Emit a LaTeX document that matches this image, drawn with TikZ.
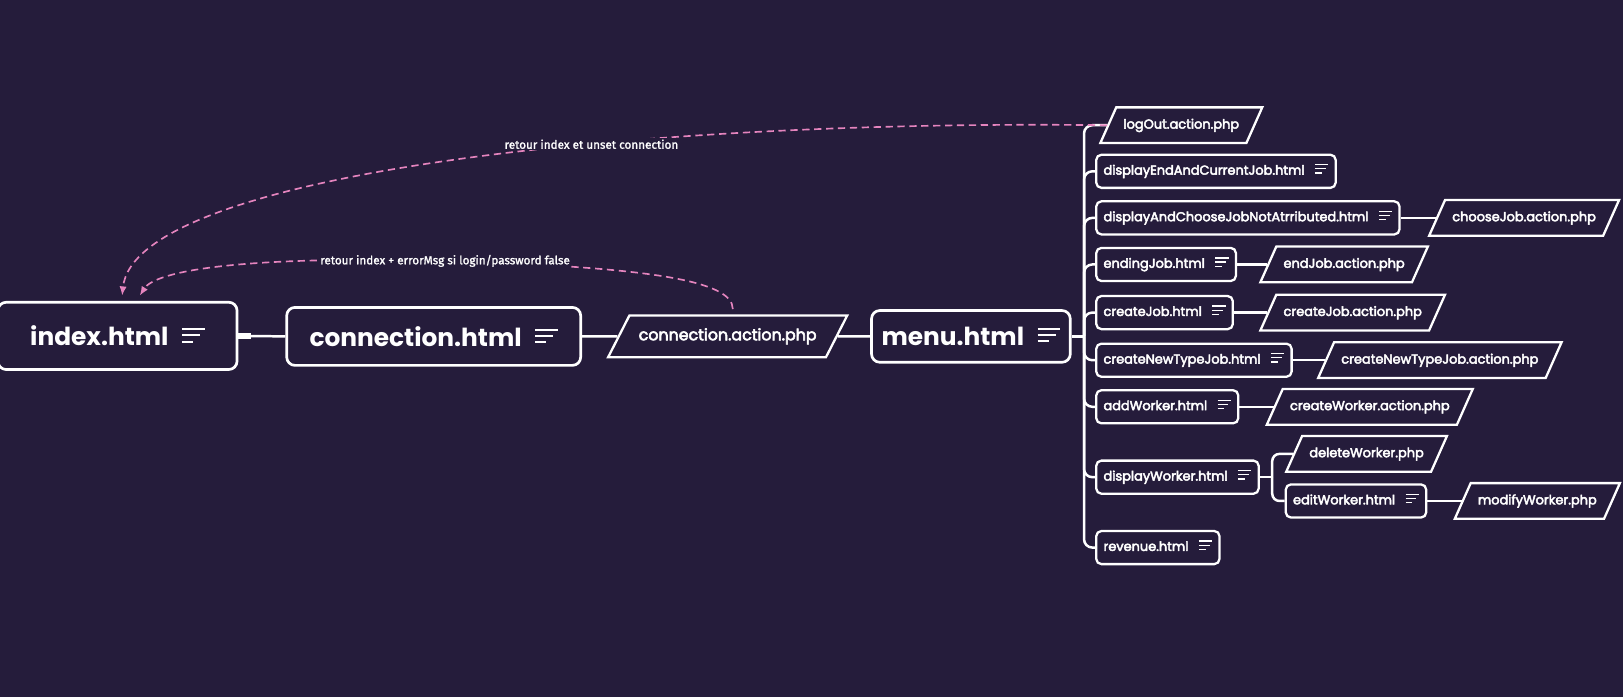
\documentclass[tikz,border=0pt]{standalone}
\usepackage{fontspec}
\setmainfont{Poppins}
\newfontfamily\itemfont{Poppins}[FakeBold=3.5]
\newfontfamily\notefont{Fira Sans}[FakeBold=1.5]
\usepackage{xcolor}
\usetikzlibrary{positioning}
\usetikzlibrary{shapes.geometric}
\usetikzlibrary{arrows.meta}
\usetikzlibrary{math}

\definecolor{canvas}{HTML}{251C3B}
\definecolor{linkpink}{HTML}{E584BE}

% three lines of notes: width, thickness, gap, raise
\newcommand{\notelines}[4]{\raisebox{#4}{\vbox{\hrule width #1 height #2
  \vskip #3\hrule width \dimexpr #1*4/5\relax height #2
  \vskip #3\hrule width \dimexpr #1/2\relax height #2}}}
\newcommand{\bignotes}{\hspace{13pt}\notelines{22pt}{2pt}{4pt}{3pt}}
\newcommand{\smallnotes}{\hspace{10pt}\notelines{13pt}{1.2pt}{2.8pt}{1pt}}

\tikzset{
  rootbox/.style={draw=white, line width=2.6pt, rounded corners=8pt, fill=canvas,
    text=white, font=\bfseries\fontsize{24}{28}\selectfont, inner xsep=7pt},
  pagebox/.style={draw=white, line width=2.2pt, rounded corners=5pt, fill=canvas,
    text=white, font=\itemfont\fontsize{12.5}{15}\selectfont, minimum height=32pt,
    inner xsep=7pt, text height=9.5pt, text depth=3pt},
  actionbox/.style={trapezium, trapezium left angle=66, trapezium right angle=114,
    draw=white, line width=2.2pt, fill=canvas, text=white,
    font=\itemfont\fontsize{12.5}{15}\selectfont, inner xsep=7pt, inner ysep=11pt,
    text height=9.5pt, text depth=3pt},
  branch/.style={draw=white, line width=2.4pt},
  backlink/.style={draw=linkpink, line width=1.6pt, dash pattern=on 7pt off 4.5pt,
    -{Latex[length=9pt,width=7pt]}},
  linklabel/.style={fill=canvas, text=white, inner sep=1.5pt,
    font=\notefont\fontsize{11.3}{13}\selectfont}
}

\begin{document}
\begin{tikzpicture}[x=1pt,y=-1pt]

  \tikzmath{
    \forkgap   = 12; % stub between a page and its fork
    \actiongap = 32; % link between a page and its action
  }

  % canvas
  \fill[canvas] (0,0) rectangle (1568,673.4);
  \useasboundingbox (0,0) rectangle (1568,673.4);

  % main chain
  \node[rootbox, minimum width=231pt, minimum height=65pt] (index) at (113.5,324.5)
    {index.html\bignotes};
  \node[rootbox, minimum width=284pt, minimum height=56pt] (connection) at (419,325)
    {connection.html\bignotes};
  \node[actionbox, trapezium left angle=63, trapezium right angle=117,
    font=\itemfont\fontsize{15.3}{18}\selectfont, inner xsep=9pt, inner ysep=13pt,
    text height=11pt, text depth=3.5pt] (conaction) at (703,325)
    {connection.action.php};
  \node[rootbox, minimum width=192pt, minimum height=50pt] (menu) at (938,325)
    {menu.html\bignotes};

  % pages reached from the menu
  \node[actionbox, anchor=west] (logOut) at (1069.5,121) {logOut.action.php};
  \node[pagebox, anchor=west] (dispEnd) at (1058,165.5)
    {displayEndAndCurrentJob.html\smallnotes};
  \node[pagebox, anchor=west] (dispChoose) at (1058,210.5)
    {displayAndChooseJobNotAtrributed.html\smallnotes};
  \node[pagebox, anchor=west] (endingJob) at (1058,255.5) {endingJob.html\smallnotes};
  \node[pagebox, anchor=west] (createJob) at (1058,302) {createJob.html\smallnotes};
  \node[pagebox, anchor=west] (createNewType) at (1058,348)
    {createNewTypeJob.html\smallnotes};
  \node[pagebox, anchor=west] (addWorker) at (1058,393) {addWorker.html\smallnotes};
  \node[pagebox, anchor=west] (dispWorker) at (1058,461)
    {displayWorker.html\smallnotes};
  \node[pagebox, anchor=west] (revenue) at (1058,529) {revenue.html\smallnotes};

  % actions of the pages
  \node[actionbox, right=\actiongap pt+2pt of dispChoose] (chooseJob) {chooseJob.action.php};
  \node[actionbox, right=\actiongap pt-3pt of endingJob] (endJob) {endJob.action.php};
  \node[actionbox, right=\actiongap pt of createJob] (createJobAct) {createJob.action.php};
  \node[actionbox, right=\actiongap pt-1pt of createNewType] (createNewTypeAct)
    {createNewTypeJob.action.php};
  \node[actionbox, right=\actiongap pt+1pt of addWorker] (createWorker)
    {createWorker.action.php};

  % worker branch
  \coordinate[right=\forkgap pt of dispWorker.east] (workerfork);
  \node[actionbox, anchor=west] (deleteWorker) at ([xshift=20pt,yshift=22.5pt]workerfork)
    {deleteWorker.php};
  \node[pagebox, anchor=west] (editWorker) at ([xshift=12pt,yshift=-23pt]workerfork)
    {editWorker.html\smallnotes};
  \node[actionbox, right=\actiongap pt+1pt of editWorker] (modifyWorker)
    {modifyWorker.php};

  % links of the main chain
  \fill[white] ([yshift=-3pt]index.east) rectangle ([xshift=12pt,yshift=3pt]index.east);
  \draw[branch] (index.east) -- (connection.west);
  \draw[branch] (connection.east) -- (conaction.west);
  \draw[branch] (conaction.east) -- (menu.west);

  % menu fork
  \coordinate[right=\forkgap pt of menu.east] (menufork);
  \draw[branch] (menu.east) -- (menufork);
  \foreach \leaf in {logOut,dispEnd,dispChoose,endingJob,createJob,
                     createNewType,addWorker,dispWorker,revenue}
    \draw[branch, rounded corners=8pt] (menufork) |- (\leaf.west);

  % page to action links
  \draw[branch] (dispChoose.east) -- (chooseJob.west);
  \draw[branch] (endingJob.east) -- (endJob.west);
  \draw[branch] (createJob.east) -- (createJobAct.west);
  \draw[branch] (createNewType.east) -- (createNewTypeAct.west);
  \draw[branch] (addWorker.east) -- (createWorker.west);
  \draw[branch] (dispWorker.east) -- (workerfork);
  \draw[branch, rounded corners=7pt] (workerfork) |- (deleteWorker.west);
  \draw[branch, rounded corners=7pt] (workerfork) |- (editWorker.west);
  \draw[branch] (editWorker.east) -- (modifyWorker.west);

  % back links to the index
  \draw[backlink] (logOut.west) .. controls (600,115) and (130,170) ..
    node[linklabel, pos=0.37] {retour index et unset connection}
    ([xshift=4.5pt,yshift=5pt]index.north);

  \draw[backlink] ([xshift=5pt,yshift=5pt]conaction.north)
    .. controls (708,270) and (620,258) .. (430,252)
    node[linklabel] {retour index + errorMsg si login/password false}
    .. controls (230,247) and (150,262) .. ([xshift=21.5pt,yshift=5pt]index.north);

\end{tikzpicture}
\end{document}
